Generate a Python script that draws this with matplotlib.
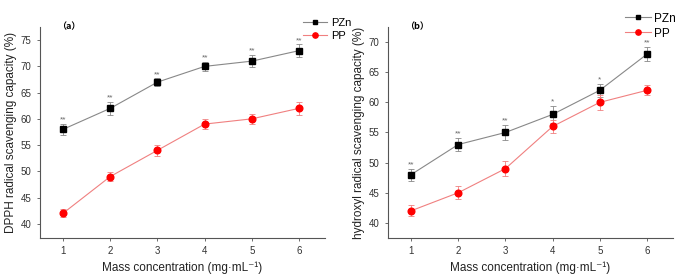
import numpy as np
import matplotlib.pyplot as plt
from matplotlib.lines import Line2D

plt.rcParams['font.family'] = ['Liberation Sans', 'DejaVu Sans']

# data
conc = [1, 2, 3, 4, 5, 6]

dpph_pzn = [58, 62, 67, 70, 71, 73]
dpph_pzn_err = [1.0, 1.2, 0.7, 0.9, 1.2, 1.2]
dpph_pp = [42, 49, 54, 59, 60, 62]
dpph_pp_err = [0.8, 0.9, 1.0, 0.9, 0.9, 1.2]
dpph_sig = ['**', '**', '**', '**', '**', '**']

oh_pzn = [48, 53, 55, 58, 62, 68]
oh_pzn_err = [1.0, 1.1, 1.2, 1.4, 1.1, 1.2]
oh_pp = [42, 45, 49, 56, 60, 62]
oh_pp_err = [0.9, 1.1, 1.2, 1.1, 1.2, 0.8]
oh_sig = ['**', '**', '**', '*', '*', '**']

fig = plt.figure(figsize=(6.77, 2.76), dpi=100)
ax1 = fig.add_axes([0.059, 0.138, 0.421, 0.764])
ax2 = fig.add_axes([0.573, 0.138, 0.421, 0.764])


def panel(ax, pzn, pzn_err, pp, pp_err, sig, ylim, yticks, ylabel):
    ax.errorbar(conc, pzn, yerr=pzn_err, color='#888888', lw=0.8,
                elinewidth=0.6, capsize=2, capthick=0.6, zorder=2)
    ax.errorbar(conc, pp, yerr=pp_err, color='#f08080', lw=0.8,
                elinewidth=0.6, capsize=2, capthick=0.6, zorder=2)
    ax.plot(conc, pzn, ls='none', marker='s', ms=4.5, color='black', zorder=3)
    ax.plot(conc, pp, ls='none', marker='o', ms=4.8, color='#ff0000', zorder=3)
    for x, y, e, s in zip(conc, pzn, pzn_err, sig):
        ax.annotate(s, (x, y + e), xytext=(0, 0.3), textcoords='offset points',
                    ha='center', va='bottom', fontsize=6, color='#666666')
    ax.set_xlim(0.51, 6.55)
    ax.set_ylim(*ylim)
    ax.set_xticks(conc)
    ax.set_yticks(yticks)
    for sp in ['top', 'right']:
        ax.spines[sp].set_visible(False)
    for sp in ['left', 'bottom']:
        ax.spines[sp].set_color('#555555')
        ax.spines[sp].set_linewidth(0.8)
    ax.tick_params(direction='out', length=2.5, width=0.6, colors='#555555',
                   labelsize=7, labelcolor='#333333')
    ax.set_xlabel('Mass concentration (mg\u00b7mL\u207b\u00b9)', fontsize=8.5,
                  color='#222222', labelpad=4)
    ax.set_ylabel(ylabel, fontsize=8.5, color='#222222', labelpad=3)


panel(ax1, dpph_pzn, dpph_pzn_err, dpph_pp, dpph_pp_err, dpph_sig,
      (37.3, 77.5), [40, 45, 50, 55, 60, 65, 70, 75],
      'DPPH radical scavenging capacity (%)')
panel(ax2, oh_pzn, oh_pzn_err, oh_pp, oh_pp_err, oh_sig,
      (37.5, 72.5), [40, 45, 50, 55, 60, 65, 70],
      'hydroxyl radical scavenging capacity (%)')

fig.text(57 / 677, 1 - 27 / 276, '（a）', fontsize=6.5, fontweight='bold',
         family=['Noto Sans CJK SC', 'DejaVu Sans'], va='center')
fig.text(405 / 677, 1 - 27 / 276, '（b）', fontsize=6.5, fontweight='bold',
         family=['Noto Sans CJK SC', 'DejaVu Sans'], va='center')

handles = [Line2D([], [], color='#888888', lw=0.8, marker='s', ms=3.5,
                  mfc='black', mec='black'),
           Line2D([], [], color='#f08080', lw=0.8, marker='o', ms=3.8,
                  mfc='#ff0000', mec='#ff0000')]
fig.legend(handles, ['PZn', 'PP'], loc='upper left', frameon=False,
           bbox_to_anchor=(293 / 677, 1 - 8 / 276), fontsize=8,
           handlelength=2.2, handletextpad=0.3, labelspacing=0.25)
fig.legend(handles, ['PZn', 'PP'], loc='upper left', frameon=False,
           bbox_to_anchor=(614 / 677, 1 - 2 / 276), fontsize=8.5,
           handlelength=2.2, handletextpad=0.3, labelspacing=0.25)

fig.savefig('out.png', dpi=100)
